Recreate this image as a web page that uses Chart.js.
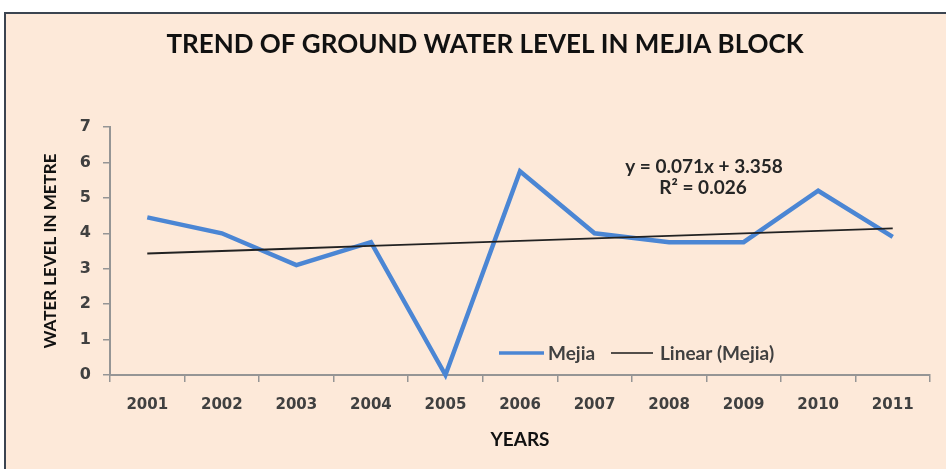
<!DOCTYPE html>
<html>
<head>
<meta charset="utf-8">
<script src="https://cdn.jsdelivr.net/npm/chart.js@4.4.1/dist/chart.umd.min.js"></script>
<style>
  html, body { margin: 0; padding: 0; background: #fff; overflow: hidden; }
  #frame {
    position: absolute; left: 4px; top: 12px; width: 970px; height: 480px;
    background: #fde9d9; border: 2px solid #3b4450; box-sizing: border-box;
  }
  #wrap { position: absolute; left: 0; top: 0; width: 946px; height: 469px; }
</style>
</head>
<body>
<div id="frame"></div>
<div id="wrap"><canvas id="chart" width="946" height="469"></canvas></div>
<script>
// ---- DATA ----
const years = ['2001', '2002', '2003', '2004', '2005', '2006', '2007', '2008', '2009', '2010', '2011'];
const mejia = [4.45, 4.0, 3.1, 3.75, 0, 5.75, 4.0, 3.75, 3.75, 5.2, 3.9];
const trendSlope = 0.071;
const trendIntercept = 3.358;
const trendR2 = 0.026;
const yTicks = [0, 1, 2, 3, 4, 5, 6, 7];

// linear trend line from the equation shown on the chart (x = 1..11)
const trend = years.map((_, i) => trendIntercept + trendSlope * (i + 1));

const FONT = 'Lato, "Open Sans", sans-serif';
const TICK_FONT = '"DejaVu Sans", sans-serif';
const AXIS_GREY = '#959595';
const BLUE = '#4b86d4';

// ---- TEXT OVERLAYS (title, legend, trend equation) ----
const overlay = {
  id: 'overlay',
  afterDraw(chart) {
    const { ctx } = chart;
    ctx.save();

    // chart title
    ctx.fillStyle = '#111';
    ctx.font = `bold 26px ${FONT}`;
    ctx.textAlign = 'center';
    ctx.textBaseline = 'middle';
    ctx.fillText('TREND OF GROUND WATER LEVEL IN MEJIA BLOCK', 485, 45);

    // trend equation
    ctx.fillStyle = '#262626';
    ctx.font = `bold 19px ${FONT}`;
    ctx.fillText(`y = ${trendSlope}x + ${trendIntercept}`, 704, 167);
    ctx.fillText(`R² = ${trendR2}`, 703, 188);

    // legend
    ctx.textAlign = 'left';
    ctx.font = `bold 19px ${FONT}`;
    ctx.fillStyle = '#404040';
    const ly = 353;
    ctx.lineCap = 'butt';
    ctx.strokeStyle = BLUE; ctx.lineWidth = 3.5;
    ctx.beginPath(); ctx.moveTo(499, ly); ctx.lineTo(544, ly); ctx.stroke();
    ctx.fillText('Mejia', 548, ly + 1);
    ctx.strokeStyle = '#1a1a1a'; ctx.lineWidth = 1.5;
    ctx.beginPath(); ctx.moveTo(611, ly); ctx.lineTo(653, ly); ctx.stroke();
    ctx.fillText('Linear (Mejia)', 660, ly + 1);

    ctx.restore();
  }
};

// ---- CHART ----
new Chart(document.getElementById('chart'), {
  type: 'line',
  data: {
    labels: years,
    datasets: [
      {
        label: 'Mejia',
        data: mejia,
        borderColor: BLUE,
        borderWidth: 4.5,
        pointRadius: 0,
        tension: 0,
        clip: 6,
        order: 1
      },
      {
        label: 'Linear (Mejia)',
        data: trend,
        borderColor: '#222',
        borderWidth: 1.8,
        pointRadius: 0,
        tension: 0,
        order: 0
      }
    ]
  },
  options: {
    responsive: false,
    animation: false,
    layout: { padding: { top: 127, right: 16, left: 0, bottom: 0 } },
    plugins: {
      legend: { display: false },
      tooltip: { enabled: false }
    },
    scales: {
      x: {
        offset: true,
        grid: { offset: true, drawOnChartArea: false, tickLength: 7, color: AXIS_GREY, lineWidth: 1.5 },
        border: { color: AXIS_GREY, width: 2 },
        ticks: { color: '#404040', font: { family: TICK_FONT, size: 15, weight: 'bold' }, padding: 14, maxRotation: 0 },
        title: {
          display: true, text: 'YEARS', color: '#111',
          font: { family: FONT, size: 19, weight: 'bold' },
          padding: { top: 18, bottom: 18 }
        },
        afterFit: s => { s.height = 94; }
      },
      y: {
        min: 0,
        max: 7,
        afterBuildTicks: s => { s.ticks = yTicks.map(v => ({ value: v })); },
        grid: { drawOnChartArea: false, tickLength: 7, color: AXIS_GREY, lineWidth: 1.5 },
        border: { color: AXIS_GREY, width: 2 },
        ticks: { color: '#404040', font: { family: TICK_FONT, size: 16, weight: 'bold' }, padding: 12 },
        title: {
          display: true, text: 'WATER LEVEL IN METRE', color: '#111',
          font: { family: FONT, size: 17, weight: 'bold' },
          padding: { top: 40, bottom: 40 }
        },
        afterFit: s => { s.width = 110; }
      }
    }
  },
  plugins: [overlay]
});
</script>
</body>
</html>
